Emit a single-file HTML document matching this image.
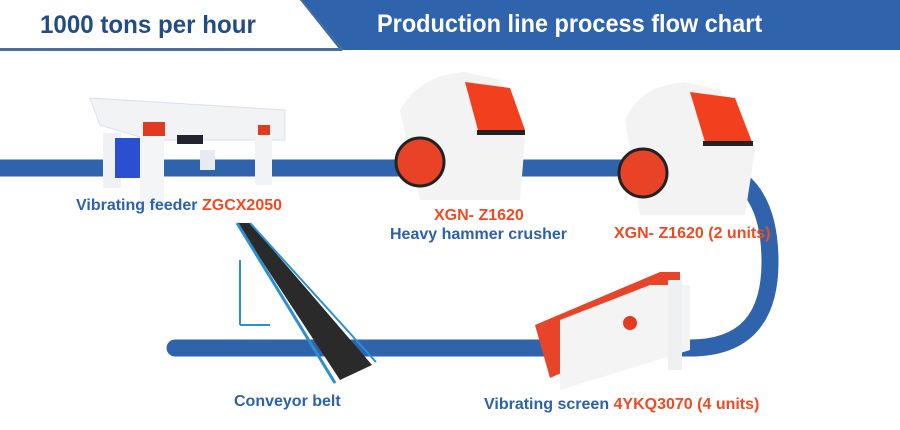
<!DOCTYPE html>
<html><head><meta charset="utf-8"><style>
body{margin:0;width:900px;height:430px;overflow:hidden;background:#fff;font-family:"Liberation Sans",sans-serif}
.t{position:absolute;font-weight:bold;white-space:nowrap}
.b{color:#2c62aa}.r{color:#f04a22}
</style></head><body>
<svg width="900" height="430" style="position:absolute;left:0;top:0">
<polygon points="300,0 900,0 900,50 340,50" fill="#2f63ab"/>
<line x1="0" y1="49.5" x2="342" y2="49.5" stroke="#4a6f9a" stroke-width="3"/>
<line x1="301" y1="0" x2="343" y2="50" stroke="#4a6f9a" stroke-width="1.5"/>
<path d="M0 168 H700 C755 168 770 215 770 262 C770 318 745 348 690 348 H175" fill="none" stroke="#2f63ab" stroke-width="17" stroke-linecap="round"/>
<!-- feeder -->
<polygon points="90,98 285,110 285,140 150,140 100,125" fill="#f2f3f5" stroke="#dde" />
<rect x="103" y="133" width="18" height="55" fill="#f0f1f3"/>
<rect x="140" y="135" width="24" height="75" fill="#f4f5f7"/>
<rect x="255" y="130" width="17" height="55" fill="#f2f3f5"/>
<rect x="200" y="150" width="15" height="20" fill="#e8eaee"/>
<rect x="115" y="138" width="25" height="40" fill="#2a4fd0"/>
<rect x="143" y="122" width="22" height="14" fill="#e03a20"/>
<rect x="258" y="125" width="12" height="10" fill="#e03a20"/>
<rect x="177" y="135" width="26" height="9" fill="#223"/>
<!-- crusher 1 -->
<path d="M400 110 Q420 75 465 72 L500 80 L525 140 L520 200 L420 200 Z" fill="#f3f3f4"/>
<polygon points="465,82 510,88 525,130 478,130" fill="#f2401e"/>
<rect x="477" y="130" width="48" height="5" fill="#222"/>
<circle cx="420" cy="162" r="24" fill="#e84326" stroke="#222" stroke-width="3"/>
<!-- crusher 2 -->
<path d="M625 120 Q640 85 685 82 L720 90 L755 150 L745 215 L640 215 Z" fill="#f3f3f4"/>
<polygon points="690,92 735,98 752,142 705,142" fill="#f2401e"/>
<rect x="703" y="141" width="50" height="5" fill="#222"/>
<circle cx="643" cy="173" r="24" fill="#e84326" stroke="#222" stroke-width="3"/>
<!-- conveyor -->
<polygon points="237,223 250,223 372,365 340,380" fill="#2a2a2a"/>
<line x1="237" y1="223" x2="335" y2="383" stroke="#2b8fd0" stroke-width="3"/>
<line x1="250" y1="223" x2="376" y2="362" stroke="#2b8fd0" stroke-width="2"/>
<line x1="240" y1="260" x2="240" y2="325" stroke="#2b8fd0" stroke-width="2"/>
<line x1="240" y1="325" x2="270" y2="325" stroke="#2b8fd0" stroke-width="2"/>
<!-- screen -->
<polygon points="535,325 660,272 680,272 680,320 550,378" fill="#e8442a"/>
<polygon points="560,320 650,285 690,285 690,350 560,390" fill="#f4f4f5"/>
<circle cx="630" cy="323" r="7" fill="#e43a22"/>
<rect x="668" y="280" width="14" height="90" fill="#eef0f2"/>
</svg>
<div class="t" style="left:40px;top:11px;font-size:25px;color:#234c87;transform:scaleX(0.965);transform-origin:0 0">1000 tons per hour</div>
<div class="t" style="left:377px;top:10px;font-size:25px;color:#fff;transform:scaleX(0.94);transform-origin:0 0">Production line process flow chart</div>
<div class="t b" style="left:76px;top:197px;font-size:16px">Vibrating feeder <span class="r">ZGCX2050</span></div>
<div class="t r" style="left:434px;top:207px;font-size:16px">XGN- Z1620</div>
<div class="t b" style="left:390px;top:226px;font-size:16px">Heavy hammer crusher</div>
<div class="t r" style="left:614px;top:225px;font-size:16px">XGN- Z1620 (2 units)</div>
<div class="t b" style="left:234px;top:393px;font-size:16px">Conveyor belt</div>
<div class="t b" style="left:484px;top:396px;font-size:16px">Vibrating screen <span class="r">4YKQ3070 (4 units)</span></div>
</body></html>
